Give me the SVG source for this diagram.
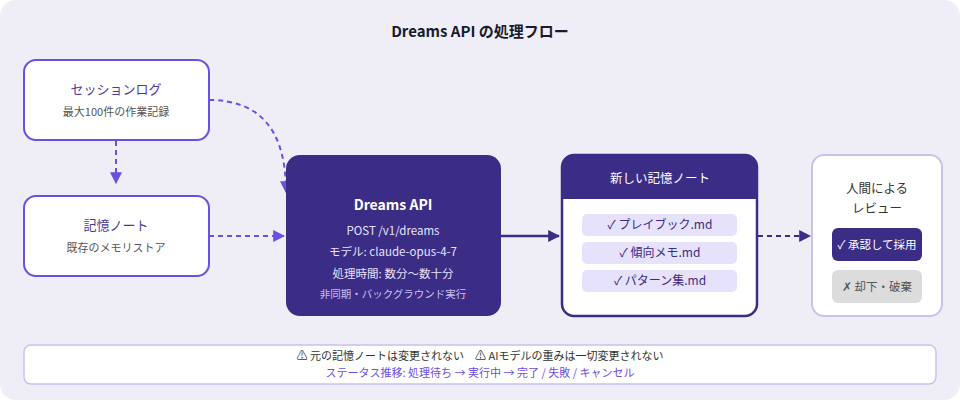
<svg xmlns="http://www.w3.org/2000/svg" width="960" height="400" viewBox="0 0 960 400">
<style>
text{font-family:"Noto Sans CJK JP","Noto Sans",sans-serif;text-anchor:middle}
.src{fill:#fff;stroke:#6a4fe0;stroke-width:2}
.t1{font-size:13px;fill:#4a3a9e}
.t2{font-size:11px;fill:#555}
.w{fill:#fff}
.dash{fill:none;stroke:#6a4fe0;stroke-width:2;stroke-dasharray:5 4}
.item{fill:#e6e2fc}
.it{font-size:12px;fill:#3b2c85}
</style>
<defs>
<marker id="ap" viewBox="0 0 10 10" refX="9" refY="5" markerWidth="12" markerHeight="12" markerUnits="userSpaceOnUse" orient="auto"><path d="M0,0L10,5L0,10z" fill="#6a4fe0"/></marker>
<marker id="ad" viewBox="0 0 10 10" refX="9" refY="5" markerWidth="12" markerHeight="12" markerUnits="userSpaceOnUse" orient="auto"><path d="M0,0L10,5L0,10z" fill="#3b2c85"/></marker>
</defs>
<rect x="0" y="0" width="960" height="400" rx="16" fill="#efeef7"/>
<text x="480" y="37" font-size="15" font-weight="bold" fill="#1a1a2e">Dreams API の処理フロー</text>
<g id="connectors">
<path class="dash" d="M116,141V183" marker-end="url(#ap)"/>
<path class="dash" d="M209,100C260,100 286,130 286,192" marker-end="url(#ap)"/>
<path class="dash" d="M209,236H284" marker-end="url(#ap)"/>
<path d="M500,236H559" stroke="#3b2c85" stroke-width="2.5" fill="none" marker-end="url(#ad)"/>
<path d="M758,236H810" stroke="#3b2c85" stroke-width="2" stroke-dasharray="5 4" fill="none" marker-end="url(#ad)"/>
</g>
<g id="session"><rect class="src" x="24" y="60" width="185" height="80" rx="12"/>
<text class="t1" x="116" y="94">セッションログ</text><text class="t2" x="116" y="116">最大100件の作業記録</text></g>
<g id="memory"><rect class="src" x="24" y="196" width="185" height="80" rx="12"/>
<text class="t1" x="116" y="230">記憶ノート</text><text class="t2" x="116" y="252">既存のメモリストア</text></g>
<g id="api"><rect x="286" y="155" width="215" height="161" rx="14" fill="#3b2c85"/>
<text x="393" y="210" font-size="14" font-weight="bold" class="w">Dreams API</text>
<text x="393" y="235" font-size="11.5" fill="#e6e2fc">POST /v1/dreams</text>
<text x="393" y="256" font-size="11.5" fill="#e6e2fc">モデル: claude-opus-4-7</text>
<text x="393" y="278" font-size="11.5" fill="#e6e2fc">処理時間: 数分〜数十分</text>
<text x="393" y="298" font-size="10.5" fill="#c8c2f0">非同期・バックグラウンド実行</text></g>
<g id="notes"><rect x="562" y="155" width="195" height="161" rx="12" fill="#fff" stroke="#3b2c85" stroke-width="2.5"/>
<path d="M562,199V167A12,12 0 0 1 574,155H745A12,12 0 0 1 757,167V199Z" fill="#3b2c85"/>
<text x="660" y="183" font-size="12.5" class="w">新しい記憶ノート</text>
<rect class="item" x="582" y="214" width="155" height="22" rx="5"/><text class="it" x="660" y="229">✓ プレイブック.md</text>
<rect class="item" x="582" y="242" width="155" height="22" rx="5"/><text class="it" x="660" y="257">✓ 傾向メモ.md</text>
<rect class="item" x="582" y="270" width="155" height="22" rx="5"/><text class="it" x="660" y="285">✓ パターン集.md</text></g>
<g id="review"><rect x="812" y="155" width="130" height="161" rx="12" fill="#fff" stroke="#c8c2f0" stroke-width="2"/>
<text x="877" y="193" font-size="12.5" fill="#333">人間による</text><text x="877" y="213" font-size="12.5" fill="#333">レビュー</text>
<rect x="832" y="228" width="90" height="33" rx="6" fill="#3b2c85"/><text x="877" y="249" font-size="11.5" class="w">✓ 承認して採用</text>
<rect x="832" y="270" width="90" height="33" rx="6" fill="#dcdcdc"/><text x="877" y="291" font-size="11.5" fill="#555">✗ 却下・破棄</text></g>
<g id="footer"><rect x="24" y="345" width="912" height="39" rx="7" fill="#fff" stroke="#c8c2f0" stroke-width="1.5"/>
<text x="480" y="360" font-size="11" fill="#333">⚠ 元の記憶ノートは変更されない　⚠ AIモデルの重みは一切変更されない</text>
<text x="480" y="377" font-size="11" fill="#6a4fe0">ステータス推移: 処理待ち → 実行中 → 完了 / 失敗 / キャンセル</text></g>
</svg>
